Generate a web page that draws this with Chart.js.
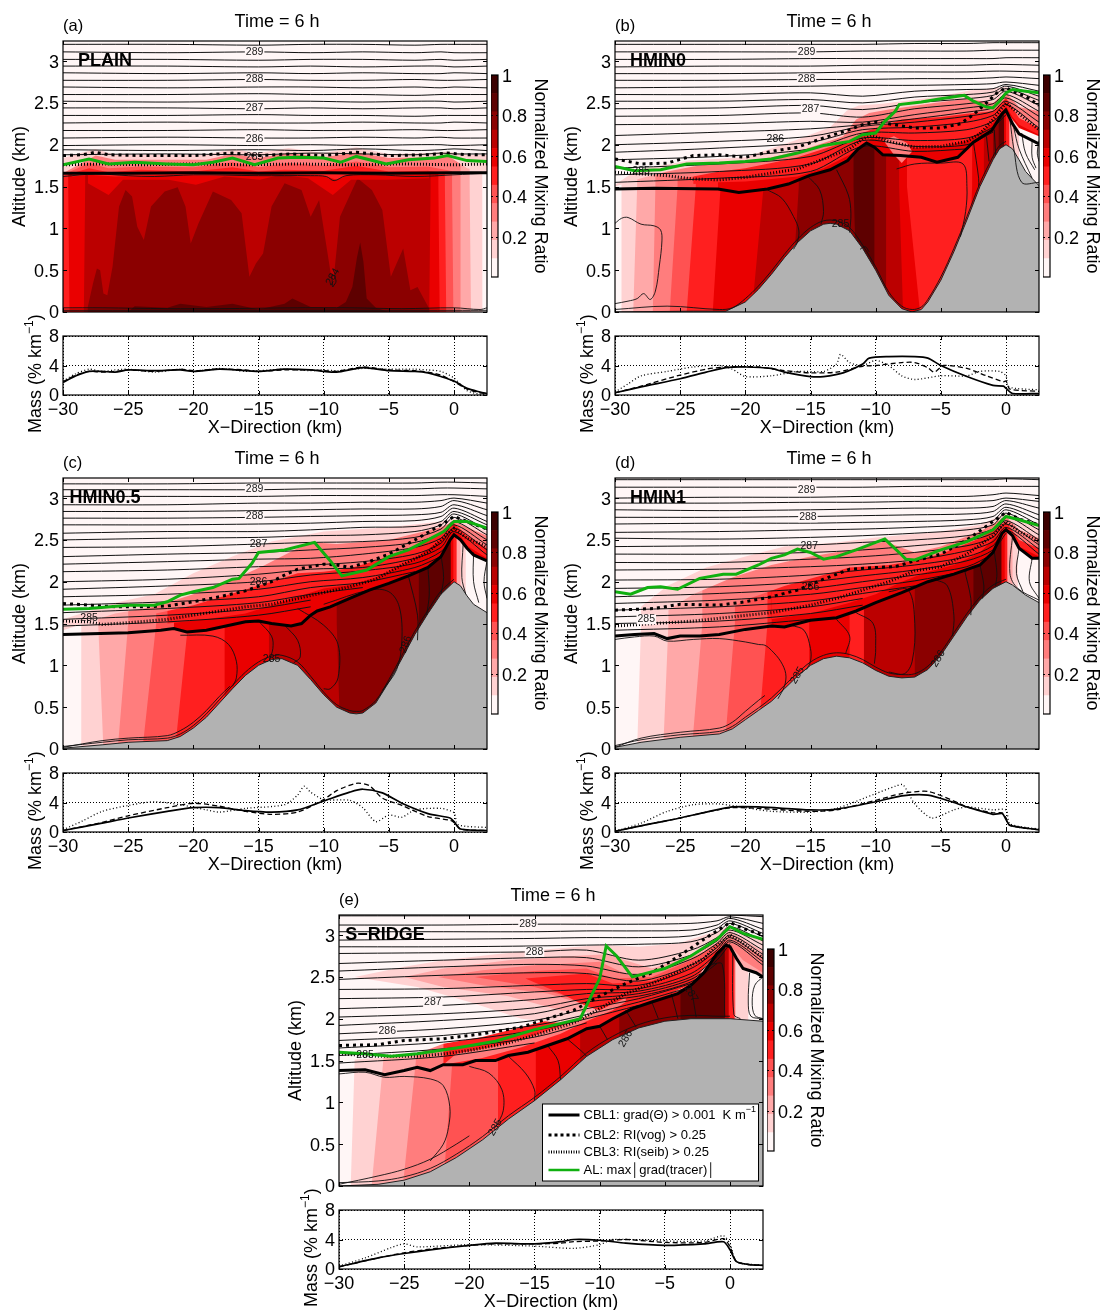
<!DOCTYPE html>
<html><head><meta charset="utf-8">
<style>html,body{margin:0;padding:0;background:#fff;width:1100px;height:1310px;overflow:hidden}canvas{position:absolute;display:block}</style>
<script src="https://cdn.jsdelivr.net/npm/chart.js@4/dist/chart.umd.min.js"></script>
</head><body>
<script>
// ---------- shared ticks & levels ----------
const altitudeTicks=[0,0.5,1,1.5,2,2.5,3];
const xTicks=[-30,-25,-20,-15,-10,-5,0];
const massTicks=[0,4,8];
const barTicks=[0.2,0.4,0.6,0.8,1];
const levelColors=['#fff6f6','#ffd2d2','#ffa8a8','#ff7d7d','#ff5252','#ff1f1f','#ea0000','#bb0000','#8b0000','#5e0000','#3c0000'];
const thetaX=[-30,-22,-15,-11,-7,-3,-1,0,2.53];

// ---------- panel (a) PLAIN ----------
const aStripes=[[5,-30,-30],[6,-29.6,-29.5],[7,-28.3,-28.4],[6,-1.8,-1.9],[5,-1.2,-1.1],[4,-.7,-.6],[3,-.15,-.05],[2,.5,.5],[1,1.2,1.3],[0,2.15,2.2]];
const aDark=[-28.1,.06,-27.7,.34,-27.4,.52,-27.15,.5,-26.9,.22,-26.6,.2,-26.2,.54,-25.7,1.26,-25.2,1.46,-24.7,1.38,-24.3,1.02,-23.8,.86,-23.25,1.26,-22.2,1.44,-21.2,1.49,-20.6,1.26,-20.2,.82,-19.6,1.06,-18.5,1.44,-17.1,1.34,-16.3,1.18,-15.7,.42,-15.2,.58,-14.65,.7,-14,1.26,-13,1.54,-11.7,1.46,-11,1.14,-10.35,1.34,-9.7,.7,-9.3,.3,-8.75,1.14,-7.4,1.6,-6.3,1.46,-5.5,1.22,-4.85,.42,-3.9,.76,-3.35,.26,-2.8,.3,-1.9,.04,-1.9,0,-28.1,0,-28.1,.06];
const aDarkest=[-25,0,-24.5,.07,-22,.05,-21,.1,-19,.06,-17,.1,-15,.03,-13,.1,-12.4,.16,-11,.06,-9,.05,-8.3,.12,-7.8,.3,-7.45,.65,-7.2,.83,-6.95,.6,-6.7,.16,-6,.05,-5,0,-25,0];
const aBand6=[-28.1,1.54,-26.5,1.4,-25.4,1.58,-21.9,1.58,-19.8,1.52,-17.6,1.62,-14.9,1.58,-13.3,1.64,-11.2,1.6,-9.3,1.4,-7.9,1.58,-5.2,1.58,-1.9,1.6];
const aBand5=[-29.3,1.62,-28,1.64,-26,1.62,-22,1.64,-18,1.63,-14,1.65,-10,1.63,-9,1.58,-8,1.65,-5,1.64,-1.2,1.65];
const aBand4=[-30,1.63,-28,1.72,-26.5,1.67,-24,1.7,-20,1.68,-17,1.73,-15,1.68,-13,1.7,-10,1.69,-7.5,1.75,-5,1.68,-2,1.69,-.5,1.66];
const aBand3=[-30,1.64,-28,1.78,-26.5,1.72,-24,1.74,-20,1.73,-17,1.79,-15,1.73,-12.8,1.78,-10,1.75,-7.5,1.8,-5,1.73,-2,1.74,0,1.68];
const aBand1=[-30,1.66,-27.5,1.87,-26,1.82,-22,1.82,-19,1.82,-17,1.89,-15,1.84,-12.7,1.9,-10,1.85,-7.5,1.91,-5,1.84,-2,1.85,-.5,1.87,1,1.72,2.53,1.67];
const aBand0=[-30,1.84,-27.5,1.95,-26,1.88,-22,1.88,-19,1.88,-17,1.95,-15,1.9,-12.7,1.96,-10,1.9,-7.5,1.97,-5,1.89,-2,1.9,-.5,1.92,1,1.88,2.53,1.88];
const aCbl1=[-30,1.66,-25,1.66,-20,1.665,-15,1.66,-10,1.665,-5,1.66,0,1.665,2.53,1.665];
const aCbl2=[-30,1.87,-28.5,1.88,-27.5,1.91,-26.5,1.88,-24,1.87,-20,1.87,-17,1.9,-15,1.87,-12.5,1.89,-10,1.87,-7.5,1.91,-5,1.87,-2,1.88,-.5,1.9,1,1.88,2.53,1.88];
const aCbl3=[-30,1.76,-27,1.77,-24,1.76,-20,1.77,-16,1.76,-12,1.77,-8,1.76,-4,1.77,0,1.76,2.53,1.77];
const aAl=[-30,1.76,-28,1.83,-26.5,1.77,-24.5,1.79,-22,1.77,-20,1.76,-18.5,1.79,-17,1.84,-15.3,1.76,-13.5,1.84,-12,1.85,-10,1.84,-8.7,1.79,-7.5,1.86,-5.2,1.77,-3.5,1.82,-1.5,1.84,-.5,1.87,1,1.81,2.53,1.8];
const aThin=[[-30,1.62,-27.5,1.65,-25,1.63,-23,1.62,-20,1.64,-15,1.63,-11,1.63,-9.8,1.62,-9.2,1.57,-8.3,1.63,-6,1.64,-3,1.62,0,1.64,2.53,1.66],[-30,.05,-27,.05,-22,.04,-18,.04,-12,.05,-8,.05,-4,.04,0,.05,2,.03,2.53,.05],[-30,.02,-20,.02,-10,.02,0,.02,2.53,.02],[-9.3,.3,-9.35,.45,-9.05,.37,-9.3,.3]];
const aTheta=[
[3.2,3.2,3.19,3.2,3.2,3.19,3.2,3.2,3.2],[3.11,3.1,3.11,3.1,3.11,3.1,3.11,3.1,3.1],[3.02,3.02,3.01,3.02,3.02,3.01,3.02,3.01,3.02],
[2.94,2.94,2.93,2.94,2.93,2.94,2.94,2.93,2.94],[2.86,2.85,2.86,2.85,2.86,2.85,2.85,2.86,2.85],[2.77,2.77,2.78,2.77,2.77,2.78,2.77,2.77,2.78],
[2.69,2.68,2.69,2.69,2.68,2.69,2.68,2.69,2.68],[2.6,2.6,2.61,2.6,2.6,2.59,2.6,2.6,2.6],[2.52,2.51,2.52,2.52,2.51,2.52,2.52,2.51,2.52],
[2.44,2.44,2.43,2.44,2.43,2.44,2.44,2.43,2.44],[2.35,2.35,2.36,2.35,2.35,2.34,2.35,2.35,2.35],[2.26,2.27,2.26,2.26,2.27,2.26,2.26,2.27,2.26],
[2.17,2.17,2.18,2.17,2.17,2.18,2.17,2.17,2.18],[2.08,2.09,2.08,2.08,2.09,2.08,2.09,2.08,2.08],[1.99,2,1.99,2,1.99,2,2,1.99,2],
[1.94,1.93,1.94,1.93,1.95,1.93,1.94,1.95,1.93],[1.88,1.89,1.88,1.9,1.89,1.88,1.9,1.89,1.89]];
const aLabels=[[-15.3,3.11,'289',0,1],[-15.3,2.78,'288',0,1],[-15.3,2.44,'287',0,1],[-15.3,2.07,'286',0,1],[-15.3,1.85,'285',0,0],[-9.3,.42,'284',-60,0]];
const aMassSolid=[-30,1.7,-29,2.6,-28,3.2,-27,3.2,-26,3.1,-25,3.4,-23,3.3,-21,3.4,-20,3.2,-18,3.5,-16,3.3,-15,3.2,-13,3.5,-11,3.4,-10,3.2,-9,3.1,-7,3.7,-5,3.3,-3,3.2,-2,3,-1,2.5,0,1.9,1,.9,2,.4,2.53,.2];
const aMassDash=[-30,1.8,-29,2.7,-28,3.2,-27,3.1,-26,3.2,-25,3.4,-23,3.2,-21,3.5,-20,3.3,-18,3.5,-16,3.4,-15,3.2,-13,3.4,-11,3.4,-10,3.3,-9,3.2,-7,3.8,-5,3.4,-3,3.3,-2,3.1,-1,2.7,0,1.8,1,.8,2,.3,2.53,.2];
const aMassDot=[-30,1.9,-29,2.9,-28,3.5,-27,3.2,-26,3.4,-25,3.5,-23,3.1,-21,3.5,-20,3.2,-18,3.6,-16,3.2,-15,3.3,-13,3.5,-11,3.3,-10,3.4,-9,3.3,-7,3.6,-5,3.5,-3,3.5,-2,3.4,-1,3.2,0,2.3,1,.6,2,.1,2.53,.1];

// ---------- panel (b) HMIN0 ----------
const bStripes=[[0,-30,-30],[1,-29.5,-29.5],[2,-28.3,-28.6],[3,-26.9,-27.1],[4,-25.2,-25.8],[5,-23.8,-24.5],[6,-21.9,-22.5],[7,-18.6,-19.5],[8,-15.9,-16.5],[9,-11.7,-11.4],[8,-10.1,-10.1],[7,-9.2,-9.2],[6,-8.2,-7.9],[5,-7.6,-6.6],[6,-2.6,-3],[7,-1.7,-2],[8,-1,-1.2],[9,-.55,-.6],[6,-.15,-.15],[5,0,0],[2,.25,.2],[1,.6,.5],[0,1,1]];
const bBand6=[-22.1,1.47,-20.5,1.43,-18.3,1.47,-16.7,1.53,-15.1,1.63,-13.5,1.7,-12.15,1.81,-11.35,1.95,-10.7,2.02,-10.1,1.97,-9.45,1.88,-8.1,1.87,-6.5,1.85,-5.3,1.79,-3.7,1.85,-2.5,2.03,-1.1,2.17,-.3,2.37,0,2.41,.5,2.3,1,2.2,2.53,2.1];
const bBand5=[-24,1.53,-22,1.55,-20,1.56,-16,1.62,-14,1.72,-12,1.88,-11,2,-10.3,2.08,-9,2.03,-7,1.96,-5,1.97,-3,2.05,-1,2.26,0,2.46,.5,2.33,1,2.24,2.53,2.12];
const bBand4=[-26,1.58,-24,1.62,-22,1.68,-20,1.72,-18,1.78,-16,1.85,-14,1.95,-12,2.05,-11,2.14,-10,2.2,-8,2.3,-5,2.33,-3,2.37,-1,2.4,0,2.56,1,2.32,2.53,2.2];
const bBand2=[-30,1.5,-28,1.6,-26,1.68,-24,1.74,-22,1.78,-20,1.8,-18,1.85,-16,1.92,-14,2.02,-12.5,2.1,-11.5,2.3,-10.5,2.38,-9,2.42,-5.5,2.5,-3,2.55,-1,2.5,0,2.62,1,2.45,2.53,2.4];
const bBand1=[-30,1.52,-28.3,1.7,-24.3,1.81,-20,1.85,-16.2,2.05,-13.5,2.21,-12.2,2.41,-11.3,2.47,-9.5,2.49,-5.4,2.57,-2.7,2.65,0,2.69,1,2.62,2.53,2.6];
const bSwirl=[-9.4,2.05,-8.6,2.1,-7.6,2.02,-7.2,1.92,-8,1.78,-8.6,1.88,-9.4,2.05];
const bTerrain=[-30,0,-24,.01,-21.5,.01,-20,.12,-19,.27,-18,.45,-17,.65,-16,.83,-15,.97,-14,1.05,-13.5,1.06,-13,1.05,-12,.97,-11,.76,-10,.5,-9,.2,-8,.04,-7.2,0,-6.5,.03,-6,.12,-5,.38,-4,.72,-3,1.1,-2,1.5,-1,1.82,-.5,1.95,0,2,.5,1.95,1,1.82,1.5,1.68,2.53,1.51];
const bCbl1=[-30,1.47,-27,1.48,-22.1,1.47,-20.5,1.43,-18.3,1.47,-16.7,1.53,-15.1,1.63,-13.5,1.7,-12.15,1.81,-11.35,1.95,-10.7,2.02,-10.1,1.97,-9.45,1.88,-8.1,1.87,-6.5,1.85,-5.3,1.79,-3.7,1.85,-2.5,2.03,-1.1,2.17,-.3,2.37,0,2.41,.5,2.25,1,2.13,2.53,2.01];
const bCbl2=[-30,1.83,-28,1.77,-26,1.78,-24,1.87,-22,1.88,-20,1.85,-18,1.92,-16,1.97,-14,2.08,-12,2.18,-11,2.24,-10,2.27,-9,2.25,-7,2.2,-5,2.2,-3.5,2.25,-2.5,2.36,-1.5,2.5,-.7,2.62,0,2.68,.5,2.64,1.5,2.58,2.53,2.47];
const bCbl3=[-30,1.67,-28,1.65,-26,1.63,-24,1.59,-22,1.58,-20,1.61,-18,1.66,-16,1.71,-14,1.83,-12,1.95,-11,2.07,-10.3,2.11,-9,2.04,-7,1.97,-5,1.98,-3,2.04,-2,2.13,-1,2.3,0,2.5,1,2.37,2.53,2.18];
const bAl=[-30,1.74,-28.5,1.69,-26.5,1.7,-24.5,1.77,-22,1.78,-20,1.8,-18,1.83,-16,1.9,-14,1.99,-12,2.04,-11,2.12,-10,2.14,-9.3,2.28,-8.5,2.4,-8.2,2.48,-6.5,2.51,-5,2.55,-3.2,2.59,-2.5,2.52,-1.5,2.45,-1,2.44,-.5,2.52,0,2.62,.5,2.66,1.5,2.64,2.53,2.62];
const bThin=[[-30,1.06,-29.5,1.12,-29,1.13,-28,1.05,-27,1.03,-26.5,.98,-26.4,.85,-26.6,.55,-26.9,.25,-27.3,.15,-27.8,.22,-28.3,.16,-29,.13,-30,.1],
[-30,.03,-26,.07,-22,.03,-21,.05,-20,.16,-19,.31,-18,.49,-17,.69,-16,.87,-15,1.01,-14,1.09,-13,1.09,-12,1.01,-11,.8,-10,.54,-9,.24,-8,.07,-7.2,.03,-6.5,.06,-6,.15,-5,.42,-4,.76,-3,1.14,-2,1.54,-1,1.86,-.5,1.99,0,2.04],
[-18.3,1.46,-17.2,1.36,-16.3,1.14,-15.9,.98,-16,.84,-16.3,.75],[-15.2,1.62,-14.3,1.46,-14,1.2,-14.2,1.05],[-13,1.7,-12.1,1.4,-11.9,1.18,-12,.95],[-11.2,.75,-10.8,.78,-10.5,.72],
[-8.4,1.71,-7,1.77,-5,1.78,-3.3,1.77,-3,1.5,-3.1,1.2,-3.5,.9],[-2.5,2.03,-2.1,1.6,-2.1,1.5],[-1.5,2.1,-1.3,1.8],[-.9,2.18,-.8,1.88],
[.3,2.3,.6,1.95,1.2,1.55,2.53,1.55],[.6,2.2,1,1.95,2,1.6],[1.2,2.14,1.5,1.9,2.2,1.7],[2,2.05,2,1.85,2.3,1.72],[2.53,2.05,2.4,1.9,2.53,1.8]];
const bTheta=[
[3.2,3.2,3.2,3.2,3.21,3.21,3.22,3.22,3.22],[3.11,3.11,3.11,3.12,3.12,3.12,3.13,3.13,3.13],[3.02,3.02,3.03,3.03,3.03,3.03,3.03,3.04,3.04],
[2.93,2.94,2.94,2.95,2.95,2.95,2.96,2.96,2.95],[2.85,2.85,2.86,2.87,2.87,2.87,2.88,2.88,2.87],[2.77,2.77,2.78,2.78,2.79,2.79,2.8,2.81,2.79],
[2.68,2.69,2.7,2.71,2.71,2.72,2.73,2.75,2.71],[2.6,2.6,2.62,2.58,2.64,2.66,2.67,2.72,2.64],[2.52,2.52,2.54,2.5,2.57,2.6,2.63,2.7,2.58],
[2.43,2.44,2.47,2.42,2.5,2.55,2.59,2.67,2.53],[2.34,2.35,2.38,2.33,2.43,2.49,2.54,2.64,2.47],[2.24,2.25,2.28,2.27,2.36,2.44,2.49,2.6,2.4],
[2.11,2.15,2.19,2.24,2.31,2.39,2.44,2.56,2.34],[2,2.04,2.1,2.22,2.27,2.34,2.4,2.52,2.27],[1.91,1.96,2.03,2.18,2.21,2.27,2.35,2.48,2.2],
[1.82,1.86,1.95,2.14,2.14,2.18,2.28,2.44],[1.72,1.77,1.86,2.08,2.05,2.08,2.21,2.36],[1.64,1.68,1.77,2.05,1.98,2,2.15],[1.55,1.6,1.68,1.98,1.92,1.95]];
const bLabels=[[-15.3,3.11,'289',0,1],[-15.3,2.79,'288',0,1],[-15,2.42,'287',0,1],[-17.7,2.07,'286',0,0],[-28,1.69,'285',0,0],[-12.7,1.05,'285',0,0]];
const bMassSolid=[-30,.3,-28,1.1,-25,2.2,-23,3.1,-21.5,3.7,-20,3.8,-18,3.6,-17,3.1,-15,2.5,-14,2.5,-12.5,3,-11,4.2,-10.5,5,-9,5.2,-7,5.2,-6,5,-5,4,-3,2.5,-1,1.3,-.2,1.2,0,.9,.5,.2,2.53,.2];
const bMassDash=[-30,.3,-28,1.2,-25,2.7,-23,3.5,-21.5,3.8,-19,3.8,-17,3.3,-15,3,-13,3.1,-11,3.9,-10,4,-8,4.4,-7,4.4,-6,3.7,-5.5,3.1,-4.8,4,-3,3.6,-1.5,2.6,-.2,1.8,0,1.9,.3,.8,2.53,.5];
const bMassDot=[-30,.4,-29,1.5,-28,2.6,-26,3.2,-24,3.8,-22,4,-21,3.5,-20,2.5,-18,2.6,-16,3.2,-14,3.2,-13,4.2,-12.7,5.5,-12,4.4,-11,4,-10,4.7,-9,4,-8,2.6,-7,2.1,-5,2.6,-3,2.6,-2,3.2,-.5,3.2,0,2.6,.2,1.1,2.53,.7];

// ---------- panel (c) HMIN0.5 ----------
const cStripes=[[0,-30,-30],[1,-28.6,-28.6],[2,-27.3,-26.9],[3,-25,-25.8],[4,-22.85,-23.9],[5,-20.4,-21.4],[6,-17.6,-17.6],[7,-14.2,-14.2],[8,-9,-8.7],[9,-2.7,-3],[6,-.25,-.25],[5,-.05,-.05],[2,.2,.2],[1,.5,.5],[0,.9,.9]];
const cCbl1=[-30,1.37,-25,1.39,-22.5,1.42,-21.5,1.44,-20.5,1.4,-19,1.42,-17.5,1.47,-16,1.52,-15,1.53,-14,1.5,-12.5,1.47,-11.7,1.5,-11,1.6,-10.5,1.65,-9.5,1.7,-8,1.8,-6.5,1.9,-5,1.98,-3.5,2.07,-2,2.17,-1,2.3,-.3,2.5,0,2.56,.5,2.5,1,2.4,1.5,2.32,2.53,2.25];
const cBand6=[-21.5,1.44,-20.5,1.4,-19,1.42,-17.5,1.47,-16,1.52,-15,1.53,-14,1.5,-12.5,1.47,-11.7,1.5,-11,1.6,-10.5,1.65,-9.5,1.7,-8,1.8,-6.5,1.9,-5,1.98,-3.5,2.07,-2,2.17,-1,2.3,-.3,2.5,0,2.56,.5,2.5,1,2.4,1.5,2.32,2.53,2.25];
const cBand5=[-22,1.5,-19,1.55,-16,1.62,-14,1.72,-12,1.82,-10,1.92,-8,1.96,-6,2.05,-3,2.28,-1,2.5,0,2.66,.5,2.55,1,2.43,2.53,2.28];
const cBand3=[-24,1.58,-20,1.72,-17,1.86,-14,2,-12,2.1,-10,2.12,-8,2.16,-6,2.25,-3,2.42,-1,2.58,0,2.7,1,2.55,2.53,2.4];
const cBand2=[-30,1.42,-26,1.62,-23,1.7,-20,1.85,-17,2.02,-14.5,2.2,-12,2.4,-10.7,2.47,-9,2.45,-5,2.5,-1,2.65,0,2.72,1,2.65,2.53,2.55];
const cBand1=[-30,1.55,-26,1.75,-23,1.85,-20,2.1,-17,2.3,-14,2.48,-10,2.6,-5,2.65,-1,2.72,0,2.75,1,2.7,2.53,2.6];
const cTerrain=[-30,.01,-27,.05,-25,.08,-22,.1,-21,.15,-20,.25,-19,.38,-18,.55,-17,.72,-16,.88,-15,1,-14,1.07,-13.2,1.08,-12,1,-11,.83,-10,.65,-9,.5,-8,.43,-7.5,.42,-7,.43,-6,.55,-5,.8,-4,1.08,-3,1.37,-2,1.62,-1,1.85,0,2,.5,1.95,1,1.83,1.5,1.73,2.53,1.63];
const cCbl2=[-30,1.74,-28,1.72,-26,1.7,-24,1.7,-22,1.71,-20,1.76,-18,1.82,-16,1.89,-14,2,-13,2.08,-12,2.15,-10,2.21,-9,2.2,-8,2.17,-6.5,2.24,-5,2.33,-3,2.5,-1,2.68,0,2.78,1,2.72,2.53,2.63];
const cCbl3=[-30,1.53,-28,1.52,-27,1.49,-25,1.51,-22,1.55,-20,1.6,-18,1.65,-16,1.7,-14,1.73,-12,1.8,-10,1.87,-8,1.94,-6,2.03,-4,2.2,-2,2.35,-1,2.5,0,2.64,1,2.52,2.53,2.42];
const cAl=[-30,1.67,-28,1.68,-25,1.72,-23,1.72,-22,1.76,-21,1.84,-20,1.88,-18.5,1.93,-17,2.03,-16.5,2.04,-15.5,2.22,-15,2.35,-13,2.38,-10.7,2.47,-9.5,2.25,-8.6,2.07,-6.7,2.14,-5,2.3,-3.5,2.38,-2,2.5,-.8,2.6,0,2.72,1,2.72,2.53,2.64];
const cThin=[[-30,.03,-27,.08,-25,.11,-22,.13,-21,.18,-20,.28,-19,.42,-18,.59,-17,.76,-16,.92,-15,1.04,-14,1.11,-13.2,1.12,-12,1.04,-11,.87,-10,.68,-9,.53,-8,.46,-7.5,.45,-7,.46,-6,.58,-5,.83,-4,1.12,-3,1.41,-2,1.66,-1,1.89,0,2.03],
[-30,.02,-27,.1,-25,.13,-22,.16,-21,.22,-20,.32,-19,.46,-18,.63,-17.2,.75],
[-21,1.36,-18.5,1.35,-17.3,1.25,-16.7,1.05,-16.7,.85,-17,.75],[-15,1.53,-14,1.35,-13.9,1.2,-14.2,1.05],[-13,1.48,-12,1.3,-11.8,1.1,-12.3,1.03],[-12,1.68,-10,1.48,-8.9,1.25,-8.9,.85,-9.5,.72,-10,.72],
[-10,1.73,-6.5,1.9,-5,1.88,-4.2,1.7,-4,1.3,-4.4,.95,-5.5,.7],[-3.5,2.07,-2.8,1.6,-2.8,1.3],[-2,2.17,-1.9,1.85,-2.1,1.6],[-1,2.32,-.8,2.05,-1,1.85],
[.7,2.45,.6,2.05,.9,1.85],[1.5,2.35,1.5,2,1.9,1.75],[2.53,2.25,2.3,2,2.53,1.8]];
const cTheta=[
[3.17,3.17,3.18,3.18,3.18,3.18,3.19,3.19,3.18],[3.1,3.1,3.1,3.11,3.11,3.11,3.12,3.12,3.11],[3.02,3.02,3.02,3.03,3.03,3.03,3.04,3.04,3.02],
[2.92,2.92,2.94,2.94,2.95,2.95,2.97,3,2.94],[2.84,2.84,2.85,2.86,2.87,2.87,2.9,2.97,2.86],[2.76,2.76,2.77,2.78,2.79,2.8,2.83,2.92,2.79],
[2.68,2.68,2.69,2.7,2.72,2.73,2.78,2.88,2.72],[2.58,2.6,2.6,2.62,2.65,2.66,2.72,2.84,2.68],[2.5,2.52,2.53,2.55,2.56,2.6,2.68,2.81,2.62],
[2.41,2.42,2.45,2.47,2.48,2.53,2.63,2.77,2.56],[2.3,2.33,2.35,2.38,2.41,2.47,2.58,2.72,2.5],[2.21,2.24,2.27,2.28,2.33,2.41,2.52,2.68,2.44],
[2.12,2.14,2.18,2.2,2.24,2.33,2.46,2.64,2.38],[2,2.03,2.09,2.15,2.17,2.28,2.41,2.6,2.32],[1.91,1.95,2,2.08,2.13,2.22,2.36,2.55],
[1.82,1.85,1.91,2,2.05,2.17,2.3],[1.72,1.76,1.82,1.93,1.99,2.12],[1.63,1.68,1.75,1.85,1.93],[1.55,1.6,1.68,1.78],[1.47,1.52,1.6,1.7]];
const cLabels=[[-15.3,3.11,'289',0,1],[-15.3,2.78,'288',0,1],[-15,2.45,'287',0,0],[-15,1.99,'286',0,0],[-28,1.57,'285',0,0],[-14,1.08,'285',0,0],[-3.7,1.25,'286',-70,0]];
const cMassSolid=[-30,.2,-27,1.2,-25,1.9,-22,2.8,-20,3.3,-18,3.3,-16,2.9,-14,2.7,-12,3,-10,4.2,-8,5.4,-7,5.8,-5.5,5.3,-4,3.9,-2,2.5,-.3,1.9,0,1.4,.5,.4,2.53,.2];
const cMassDash=[-30,.2,-27,1.3,-25,2.2,-22,3.3,-20,3.9,-18,3.5,-16,2.8,-14,2.4,-12,2.7,-10,4.4,-9,5.6,-7.5,6.6,-6.5,6.3,-5.5,4.6,-4,3.6,-2,2.1,-.3,1.6,0,1.3,.5,.4,2.53,.2];
const cMassDot=[-30,.3,-28.5,1.5,-27,2.8,-25,3.6,-23,4.1,-21,3.7,-19,3,-18,2.7,-16,3.2,-13,3.7,-12,5,-11.5,6.2,-11,5.4,-10,4.4,-8,4.3,-7,3.3,-6,1.4,-5,2.3,-4,2,-3,3,-1,3.2,0,2.6,.3,1,2.53,.6];

// ---------- panel (d) HMIN1 ----------
const dStripes=[[0,-30,-30],[1,-28,-28.3],[2,-25.9,-26.3],[3,-23.3,-24.1],[4,-20.8,-21.6],[5,-18.3,-19.1],[6,-15.1,-15.1],[5,-12,-12],[7,-10.9,-10.9],[8,-7,-7],[9,-2.5,-2.5],[6,-.35,-.35],[5,-.1,-.1],[2,.1,.1],[1,.5,.5],[0,.9,.9]];
const dCbl1=[-30,1.35,-28.5,1.37,-27,1.38,-26,1.32,-25,1.35,-23.5,1.35,-22,1.37,-20,1.43,-18,1.47,-17,1.46,-15,1.54,-13,1.57,-11.5,1.65,-10,1.75,-8,1.87,-6,2,-4,2.09,-2,2.2,-1,2.35,-.3,2.58,0,2.62,.5,2.55,1,2.4,2,2.28,2.53,2.28];
const dBand6=[-18,1.47,-17,1.46,-15,1.54,-13,1.57,-11.5,1.65,-10,1.75,-8,1.87,-6,2,-4,2.09,-2,2.2,-1,2.35,-.3,2.58,0,2.62,.5,2.55,1,2.4,2,2.28,2.53,2.28];
const dBand5=[-18,1.55,-15,1.62,-12,1.75,-10,1.85,-8,2,-6,2.12,-4,2.2,-2,2.35,0,2.66,.5,2.55,1,2.42,2.53,2.3];
const dBand3=[-22,1.6,-20,1.78,-17,1.95,-14,2.08,-12,2.17,-9,2.2,-7,2.25,-5,2.33,-2,2.52,0,2.72,1,2.5,2.53,2.4];
const dBand2=[-26,1.65,-24,1.85,-21,2.05,-18,2.2,-15,2.3,-12,2.38,-9.3,2.48,-7,2.35,-5,2.42,-2,2.6,0,2.78,1,2.62,2.53,2.52];
const dBand1=[-30,1.5,-28,1.7,-26,1.95,-23,2.17,-20,2.3,-17,2.42,-13,2.47,-10,2.53,-5,2.6,-2,2.68,0,2.82,1,2.75,2.53,2.7];
const dTerrain=[-30,.02,-28,.08,-25,.14,-22,.18,-21,.24,-20,.35,-19,.46,-18,.57,-17,.72,-16,.87,-15,1,-14,1.08,-13,1.11,-12,1.09,-11,1.03,-10,.94,-9,.87,-8,.85,-7,.86,-6,.95,-5,1.12,-4,1.35,-3,1.58,-2,1.78,-1,1.92,0,2,.5,1.96,1,1.9,1.5,1.84,2.53,1.75];
const dCbl2=[-30,1.66,-27,1.68,-25,1.73,-22,1.72,-20,1.76,-18,1.82,-16,1.9,-14,2.03,-12,2.15,-10,2.17,-8.5,2.18,-7,2.25,-5,2.33,-3,2.5,-1,2.72,0,2.83,1,2.75,2.53,2.68];
const dCbl3=[-30,1.47,-27,1.5,-24,1.53,-21,1.58,-18,1.63,-15,1.72,-13,1.8,-11,1.9,-9,2,-7,2.13,-5,2.18,-3,2.33,-1,2.55,0,2.72,1,2.6,2.53,2.48];
const dAl=[-30,1.88,-28.8,1.85,-27.5,1.93,-26.5,1.94,-25.2,1.91,-23.5,2.04,-21.7,2.09,-20.7,2.09,-19,2.2,-18,2.28,-17,2.32,-16,2.39,-15,2.35,-14,2.27,-13,2.3,-11.5,2.38,-10,2.47,-9.3,2.51,-8,2.32,-7.7,2.27,-7,2.26,-5,2.38,-3,2.48,-1,2.62,0,2.78,1,2.74,2.53,2.67];
const dThin=[[-30,.04,-28,.11,-25,.17,-22,.21,-21,.27,-20,.38,-19,.49,-18,.61,-17,.76,-16,.91,-15,1.04,-14,1.12,-13,1.15,-12,1.13,-11,1.07,-10,.98,-9,.91,-8,.89,-7,.9,-6,.99,-5,1.16,-4,1.39,-3,1.62,-2,1.82,-1,1.96,0,2.03],
[-30,.02,-28,.13,-25,.2,-22,.25,-21,.32,-20,.45,-19,.58,-18.5,.64],
[-30,1.31,-28.5,1.34,-27,1.35,-26,1.29,-24,1.31,-22,1.32,-20,1.28,-19,1.25,-18.5,1.24,-18,1.18,-17.3,1.05,-16.9,.9,-17,.75,-17.5,.6],
[-16.5,1.48,-15.5,1.42,-15,1.2,-15,1.05,-15.3,.95],[-13,1.55,-12,1.35,-12.3,1.14],[-11.5,1.63,-10.2,1.5,-10,1.2,-10.1,1.02],[-9,1.88,-7.5,1.9,-7,1.5,-7.2,1.05,-7.8,.9,-9,.92],
[-5.5,2.03,-4.5,1.95,-4,1.6,-4.1,1.35],[-3.2,2.15,-2.7,1.8,-2.7,1.6],[-2,2.2,-1.7,1.95,-1.8,1.8],[-.9,2.36,-.7,2.1,-.8,1.95],
[.5,2.55,.3,2.1,.9,1.92,2.53,1.78],[1,2.4,.8,2.1,1.3,1.88],[2,2.28,1.8,2,2.53,1.8]];
const dTheta=[
[3.22,3.22,3.22,3.22,3.22,3.22,3.22,3.23,3.22],[3.13,3.13,3.13,3.13,3.14,3.14,3.14,3.14,3.14],[3,3.01,3.01,3.02,3.02,3.02,3.04,3.06,3.03],
[2.94,2.94,2.95,2.95,2.96,2.96,2.97,3,2.96],[2.86,2.85,2.86,2.87,2.88,2.88,2.9,2.97,2.88],[2.77,2.77,2.78,2.79,2.8,2.81,2.84,2.93,2.8],
[2.69,2.7,2.7,2.71,2.72,2.74,2.78,2.89,2.74],[2.59,2.6,2.62,2.63,2.65,2.68,2.73,2.86,2.68],[2.52,2.51,2.53,2.55,2.58,2.62,2.68,2.82,2.62],
[2.42,2.43,2.44,2.47,2.5,2.55,2.63,2.78,2.56],[2.33,2.33,2.35,2.38,2.43,2.49,2.58,2.73,2.5],[2.23,2.23,2.27,2.3,2.35,2.43,2.53,2.69,2.44],
[2.14,2.15,2.18,2.21,2.26,2.37,2.48,2.65,2.39],[2.02,2.03,2.08,2.14,2.2,2.3,2.43,2.62,2.33],[1.92,1.94,2,2.07,2.14,2.25,2.38,2.58],
[1.82,1.86,1.92,2,2.08,2.18,2.33],[1.74,1.78,1.85,1.93,2.01,2.13],[1.66,1.7,1.77,1.86,1.95],[1.58,1.62,1.7,1.8],[1.5,1.53,1.62,1.72],[1.42,1.46,1.55]];
const dLabels=[[-15.3,3.09,'289',0,1],[-15.2,2.77,'288',0,1],[-15.1,2.43,'287',0,0],[-15,1.93,'286',0,0],[-27.6,1.55,'285',0,1],[-16,.88,'285',-60,0],[-5.2,1.08,'286',-60,0]];
const dMassSolid=[-30,.1,-27,1.2,-25,1.9,-23,2.7,-21,3.4,-19,3.4,-15,3,-13,3.1,-10,4.1,-8,4.9,-6,5,-4,4,-3,3.4,-1,2.4,-.3,2.5,0,1.7,.3,.9,2.53,.3];
const dMassDash=[-30,.1,-27,1.2,-25,1.9,-23,2.7,-21,3.3,-19,3.2,-15,2.8,-13,3,-10,4.3,-8,5.2,-6,5.5,-4,4.2,-3,3.4,-1,2.6,-.3,2.6,0,1.9,.3,.9,2.53,.3];
const dMassDot=[-30,.1,-28,1.2,-26,2.8,-24,3.7,-22,3.8,-20,3.3,-18,2.8,-15,2.7,-13,3.2,-10,5.2,-8.5,6.2,-7.9,6.4,-7,3.8,-5.7,1.9,-4,3,-3,3.4,-1,3,0,3,.3,1.1,2.53,.4];

// ---------- panel (e) S-RIDGE ----------
const eStripes=[[0,-30,-30],[1,-28.8,-29.1],[2,-26.6,-27.5],[3,-24.1,-25.1],[4,-21.3,-22],[5,-17.8,-17.8],[6,-14.9,-14.9],[7,-11.5,-11.5],[8,-8.5,-8.5],[9,-3.8,-3.8],[7,-.4,-.4],[5,-.1,-.1],[2,.35,.35],[1,.45,.45],[0,1.4,1.4]];
const eCbl1=[-30,1.38,-28,1.39,-26.5,1.33,-25,1.38,-24,1.42,-23,1.38,-22,1.45,-20.5,1.45,-19.5,1.5,-18,1.5,-17,1.56,-15.5,1.6,-14,1.68,-12.5,1.76,-11,1.88,-10,1.91,-9,2,-7.5,2.12,-6,2.2,-4,2.3,-3,2.4,-2,2.55,-1,2.78,-.3,2.88,0,2.86,.5,2.72,1,2.6,2,2.55,2.53,2.5];
const eBand5=[-22,1.45,-20.5,1.45,-19.5,1.5,-18,1.5,-17,1.56,-15.5,1.6,-14,1.68,-12.5,1.76,-11,1.88,-10,1.91,-9,2,-7.5,2.12,-6,2.2,-4,2.3,-3,2.4,-2,2.55,-1,2.78,-.3,2.88,0,2.86,.5,2.72,1,2.6,2,2.55,2.53,2.5];
const eBand0=[-30,1.5,-27,1.53,-24,1.58,-22,1.7,-19,1.78,-16,1.9,-13,2.02,-10,2.1,-8,2.2,-6,2.25,-4,2.33,-3,2.42,-2,2.58,-1,2.8,0,2.9,.5,2.75,1,2.62,2.53,2.53];
const eLens1=[-28.8,2.5,-25,2.62,-22,2.7,-18,2.77,-14,2.83,-10,2.88,-7,2.86,-4,2.9,-1,3.05,0,3.12,1,3.05,2.53,2.95,2.53,2.52,1,2.62,0,2.88,-1,2.8,-3,2.42,-6,2.22,-10,1.95,-13,1.95,-16,2,-20,2.2,-24,2.38,-28.8,2.5];
const eLens2=[-25,2.5,-22,2.6,-17,2.7,-12,2.75,-9.5,2.77,-6,2.6,-3,2.75,-1,2.95,0,3.05,1,2.95,2.53,2.8,2.53,2.52,1,2.62,0,2.88,-1,2.8,-3,2.42,-6,2.22,-9,2.05,-13,2.1,-17,2.27,-22,2.38,-25,2.5];
const eLens3=[-22.4,2.5,-19,2.58,-15,2.64,-10,2.68,-7.5,2.5,-5,2.58,-2,2.8,0,3,1,2.88,2.53,2.75,2.53,2.55,1,2.7,0,2.88,-1,2.8,-3,2.42,-6,2.22,-9,2.07,-14,2.3,-19,2.4,-22.4,2.5];
const eLens4=[-19.6,2.5,-15,2.57,-11,2.6,-9,2.48,-6,2.5,-3,2.7,-1,2.9,0,2.95,-1,2.8,-3,2.42,-6,2.22,-8,2.1,-11,2.2,-15,2.38,-19.6,2.5];
const eLens5=[-15.7,2.48,-11,2.54,-9,2.42,-6,2.45,-3,2.62,-1,2.82,0,2.92,-1,2.79,-3,2.41,-6,2.21,-9,2.05,-11,2.15,-13,2.3,-15.7,2.48];
const eHug2=[-22,1.45,-21,1.58,-18,1.67,-15,1.8,-12,1.97,-10,2.1,-8,2.25,-8,2.14,-9,2,-10,1.91,-11,1.88,-12.5,1.76,-14,1.68,-15.5,1.6,-17,1.56,-18,1.5,-19.5,1.5,-20.5,1.45,-22,1.45];
const eHug5=[-22,1.45,-19,1.53,-16,1.66,-13,1.82,-11,1.97,-9,2.1,-8,2.2,-7.5,2.12,-9,2,-10,1.91,-11,1.88,-12.5,1.76,-14,1.68,-15.5,1.6,-17,1.56,-18,1.5,-19.5,1.5,-20.5,1.45,-22,1.45];
const eTerrain=[-30,0,-27,.02,-25,.07,-23,.17,-21,.34,-19,.55,-17,.8,-15,1.02,-13,1.27,-11,1.55,-9,1.75,-7,1.89,-5,1.97,-3,2,0,2,2.53,1.97];
const eCbl2=[-30,1.68,-27,1.69,-25,1.74,-22,1.76,-19,1.82,-16,1.9,-14,2,-12,2.1,-10,2.27,-8,2.42,-6,2.55,-4,2.74,-2,2.95,-1,3.05,0,3.15,1,3.08,2.53,3];
const eCbl3=[-30,1.58,-27,1.55,-24,1.55,-22,1.58,-20,1.62,-17,1.71,-14,1.85,-12,1.95,-10,2.12,-8,2.3,-6,2.42,-4,2.56,-2,2.72,-1,2.88,0,3,1,2.9,2.53,2.73];
const eAl=[-30,1.6,-28,1.58,-26,1.55,-24,1.58,-21,1.65,-18,1.73,-15,1.87,-12,1.98,-11.5,2,-10,2.48,-9.5,2.87,-8.7,2.75,-7.5,2.5,-5,2.6,-3,2.75,-1,2.95,0,3.1,1,3.02,2.53,2.95];
const eThin=[[-30,.04,-27,.06,-25,.11,-23,.21,-21,.38,-19,.59,-17,.84,-15,1.06,-13,1.31,-11,1.59,-9,1.79,-7,1.93,-5,2.01,-3,2.04,-1,2.03,0,2.03],
[-30,.02,-27,.12,-25,.2,-23,.32,-21,.5,-20,.6],[-30,1.34,-28,1.36,-26.5,1.3,-25,1.31,-23,1.28,-22,1.2,-21.5,.95,-21.6,.7,-22,.5,-23,.3],
[-20,1.43,-18.5,1.35,-17.5,1.15,-17.4,.9,-18,.7],[-17,1.55,-15.7,1.35,-15,1.15,-15,1.02],[-14,1.68,-13.2,1.5,-13,1.27],[-12.5,1.76,-11.3,1.6,-11,1.55],[-10,1.91,-9.4,1.75],[-8,2.1,-7.2,1.9],[-6,2.2,-5.5,2],[-4.5,2.3,-4,2],[-3,2.4,-2.6,2.02],[-1.5,2.65,-.6,2.65,-.4,2.02],
[.2,2.8,.3,2.05,.8,2],[1.5,2.55,1.4,2.2,1.6,2.03,2.53,2],[2.53,2.5,1.9,2.4,1.7,2.2,1.9,2.04,2.53,2]];
const eTheta=[
[3.23,3.23,3.23,3.23,3.23,3.23,3.24,3.24,3.22],[3.12,3.12,3.13,3.13,3.13,3.14,3.17,3.22,3.14],[3.04,3.04,3.04,3.05,3.05,3.06,3.12,3.2,3.07],
[2.94,2.95,2.96,2.97,2.97,2.99,3.08,3.17,3.02],[2.86,2.86,2.87,2.88,2.89,2.92,3.03,3.14,2.98],[2.78,2.79,2.8,2.82,2.7,2.82,2.97,3.1,2.93],
[2.66,2.7,2.73,2.73,2.62,2.76,2.93,3.06,2.88],[2.57,2.62,2.65,2.63,2.53,2.71,2.9,3.03,2.82],[2.47,2.52,2.55,2.54,2.45,2.64,2.85,3,2.77],
[2.35,2.36,2.4,2.42,2.4,2.6,2.82,2.97,2.72],[2.24,2.26,2.32,2.35,2.36,2.54,2.78,2.94,2.68],[2.12,2.16,2.23,2.3,2.33,2.5,2.74,2.92,2.64],
[2.02,2.06,2.13,2.24,2.3,2.47,2.7,2.9],[1.92,1.98,2.06,2.2,2.27,2.44,2.66],[1.82,1.88,1.98,2.12,2.24,2.42],[1.74,1.8,1.92,2.05,2.2,2.38],
[1.65,1.72,1.86,2,2.16],[1.56,1.64,1.78,1.95],[1.47,1.55,1.71]];
const eLabels=[[-15.5,3.13,'289',0,1],[-15,2.8,'288',0,1],[-22.8,2.2,'287',0,1],[-26.3,1.85,'286',0,1],[-28,1.57,'285',0,0],[-18,.7,'285',-60,0],[-8,1.76,'286',-60,0],[-3,2.3,'287',60,0]];
const eMassSolid=[-30,.3,-27,1.5,-25,2.1,-23,2.6,-20,3.2,-18,3.5,-15,3.4,-13,3.7,-12,4,-10,3.9,-8,3.5,-5,3.2,-2,3.4,-.5,3.7,0,2.6,.5,1,1.5,.6,2.53,.5];
const eMassDash=[-30,.3,-27,1.5,-25,2.2,-23,2.7,-20,3.2,-18,3.4,-15,3.4,-13,3.5,-12,3.7,-10,3.8,-8,4,-5,3.6,-2,3.6,-.5,4.1,0,3,.5,1,1.5,.6,2.53,.5];
const eMassDot=[-30,.4,-28,1.5,-26,2.9,-25,3.4,-24,3,-20,3.3,-15,3.1,-12,2.8,-10,3.3,-9,4,-5,3.8,-2,3.8,-.5,4.5,0,3.4,.5,1,2.53,.5];

// ---------- panel table ----------
const panels=[
{tag:'(a)',name:'PLAIN',nameX:42,L:63,T:41,stripes:aStripes,shapes1:[[8,aDark],[9,aDarkest]],bands:[[6,aBand6],[5,aBand5],[4,aBand4],[3,aBand3],[1,aBand1],[0,aBand0]],shapes2:[],terrain:null,cbl1:aCbl1,cbl2:aCbl2,cbl3:aCbl3,al:aAl,thin:aThin,theta:aTheta,labels:aLabels,m:[aMassSolid,aMassDash,aMassDot]},
{tag:'(b)',name:'HMIN0',nameX:43,L:615,T:41,stripes:bStripes,shapes1:[],bands:[[6,bBand6],[5,bBand5],[3,bBand4],[1,bBand2],[0,bBand1]],shapes2:[[3,bSwirl]],terrain:bTerrain,cbl1:bCbl1,cbl2:bCbl2,cbl3:bCbl3,al:bAl,thin:bThin,theta:bTheta,labels:bLabels,m:[bMassSolid,bMassDash,bMassDot]},
{tag:'(c)',name:'HMIN0.5',nameX:42,L:63,T:478,stripes:cStripes,shapes1:[],bands:[[6,cBand6],[5,cBand5],[3,cBand3],[1,cBand2],[0,cBand1]],shapes2:[],terrain:cTerrain,cbl1:cCbl1,cbl2:cCbl2,cbl3:cCbl3,al:cAl,thin:cThin,theta:cTheta,labels:cLabels,m:[cMassSolid,cMassDash,cMassDot]},
{tag:'(d)',name:'HMIN1',nameX:43,L:615,T:478,stripes:dStripes,shapes1:[],bands:[[6,dBand6],[5,dBand5],[3,dBand3],[1,dBand2],[0,dBand1]],shapes2:[],terrain:dTerrain,cbl1:dCbl1,cbl2:dCbl2,cbl3:dCbl3,al:dAl,thin:dThin,theta:dTheta,labels:dLabels,m:[dMassSolid,dMassDash,dMassDot]},
{tag:'(e)',name:'S\u2212RIDGE',nameX:46,L:339,T:915,stripes:eStripes,shapes1:[],bands:[[5,eBand5],[0,eBand0]],shapes2:[[1,eLens1],[2,eLens2],[3,eLens3],[4,eLens4],[5,eLens5],[3,eHug2],[5,eHug5]],terrain:eTerrain,cbl1:eCbl1,cbl2:eCbl2,cbl3:eCbl3,al:eAl,thin:eThin,theta:eTheta,labels:eLabels,legend:true,m:[eMassSolid,eMassDash,eMassDot]}
];

// ---------- helpers ----------
const FONT='"Liberation Sans",Arial,sans-serif';
Chart.defaults.font.family=FONT;Chart.defaults.color='#000';Chart.defaults.animation=false;
const XMIN=-30,XMAX=2.53,YMAX=3.24,PW=424,PH=271,MH=59,EL=55,FS=18;
const pts=f=>{const o=[];for(let i=0;i<f.length;i+=2)o.push({x:f[i],y:f[i+1]});return o;};
const fmt=v=>String(v).replace('-','\u2212');
function mkCanvas(l,t,w,h){const c=document.createElement('canvas');c.width=w;c.height=h;c.style.left=l+'px';c.style.top=t+'px';c.style.width=w+'px';c.style.height=h+'px';document.body.appendChild(c);return c;}
const frame={id:'frame',afterDraw(ch,a,o){const {ctx,chartArea:A,scales}=ch;ctx.save();ctx.strokeStyle='#000';ctx.lineWidth=1;
 ctx.beginPath();
 if(scales.x&&scales.x.type==='linear'){scales.x.ticks.forEach(t=>{const p=Math.round(scales.x.getPixelForValue(t.value))+.5;ctx.moveTo(p,A.bottom);ctx.lineTo(p,A.bottom-4);ctx.moveTo(p,A.top);ctx.lineTo(p,A.top+4);});}
 scales.y.ticks.forEach(t=>{const p=Math.round(scales.y.getPixelForValue(t.value))+.5;ctx.moveTo(A.left,p);ctx.lineTo(A.left+(o.barTicks?2:4),p);ctx.moveTo(A.right,p);ctx.lineTo(A.right-(o.barTicks?2:4),p);});
 ctx.stroke();ctx.lineWidth=o.w||1.2;ctx.strokeRect(A.left,A.top,A.right-A.left,A.bottom-A.top);ctx.restore();}};
const overlay={id:'overlay',afterDatasetsDraw(ch,a,o){const {ctx,chartArea:A,scales:{x,y}}=ch;ctx.save();
 ctx.beginPath();ctx.rect(A.left,A.top,A.right-A.left,A.bottom-A.top);ctx.clip();
 o.labels.forEach(([vx,vy,s,rot,halo])=>{const px=x.getPixelForValue(vx),py=y.getPixelForValue(vy);ctx.save();ctx.translate(px,py);ctx.rotate((rot||0)*Math.PI/180);ctx.font='10.5px '+FONT;const w=ctx.measureText(s).width;if(halo){ctx.fillStyle=levelColors[0];ctx.fillRect(-w/2-1,-5,w+2,10);}ctx.fillStyle=halo?'#222':'#111';ctx.textAlign='center';ctx.textBaseline='middle';ctx.fillText(s,0,0);ctx.restore();});
 ctx.restore();ctx.save();ctx.fillStyle='#000';ctx.textBaseline='middle';
 ctx.font='bold 18px '+FONT;ctx.textAlign='center';ctx.fillText(o.name,A.left+o.nameX,A.top+20);
 if(o.legend)drawLegend(ctx,A);
 ctx.restore();
 ctx.save();ctx.fillStyle='#000';ctx.textBaseline='middle';ctx.textAlign='center';ctx.font=FS+'px '+FONT;ctx.fillText('Time = 6 h',A.left+214,A.top-19);
 ctx.textAlign='left';ctx.font='16.5px '+FONT;ctx.fillText(o.tag,A.left,A.top-15);ctx.restore();}};
function drawLegend(ctx,A){const lx=A.left+203.5,ly=A.top+189,w=216,h=77;ctx.fillStyle='#fff';ctx.fillRect(lx,ly,w,h);ctx.strokeStyle='#000';ctx.lineWidth=1;ctx.strokeRect(lx,ly,w,h);
 const rows=[['CBL1: grad(\u0398) > 0.001  K m',3,[],'#000',11],['CBL2: RI(vog) > 0.25',3,[3,3],'#000',31],['CBL3: RI(seib) > 0.25',3,[1,1.5],'#000',48],['AL: max\u2502grad(tracer)\u2502',2.5,[],'#10b010',66]];
 ctx.font='13px '+FONT;ctx.textAlign='left';ctx.textBaseline='middle';
 rows.forEach(([s,lw,d,c,dy])=>{ctx.beginPath();ctx.setLineDash(d);ctx.lineWidth=lw;ctx.strokeStyle=c;ctx.moveTo(lx+6,ly+dy);ctx.lineTo(lx+37,ly+dy);ctx.stroke();ctx.setLineDash([]);ctx.fillStyle='#000';ctx.fillText(s,lx+41,ly+dy);});
 const tw=ctx.measureText(rows[0][0]).width;ctx.font='9px '+FONT;ctx.fillText('\u22121',lx+41+tw,ly+6);}

function buildMain(p){
 const list=[];
 const push=d=>list.push(Object.assign({showLine:true,pointRadius:0,pointHitRadius:0,tension:0,borderWidth:0,fill:false},d));
 p.stripes.forEach(([lev,xt,xb])=>push({data:pts([xt,4,xt,1.5,xb,0,3,0,3,4,xt,4]),fill:'shape',backgroundColor:levelColors[lev],borderColor:levelColors[lev]}));
 p.shapes1.forEach(([lev,f])=>push({data:pts(f),fill:'shape',backgroundColor:levelColors[lev],borderColor:levelColors[lev]}));
 p.bands.forEach(([lev,f])=>push({data:pts(f),fill:'end',backgroundColor:levelColors[lev],borderColor:levelColors[lev]}));
 p.shapes2.forEach(([lev,f])=>push({data:pts(f),fill:'shape',backgroundColor:levelColors[lev],borderColor:levelColors[lev]}));
 if(p.terrain)push({data:pts(p.terrain),fill:'start',backgroundColor:'#b2b2b2',borderColor:'#222',borderWidth:1});
 p.thin.forEach(f=>push({data:pts(f),borderColor:'#111',borderWidth:.9,tension:.35}));
 p.theta.forEach(r=>{const f=[];r.forEach((v,i)=>f.push(thetaX[i],v));push({data:pts(f),borderColor:'#111',borderWidth:1,tension:.3});});
 push({data:pts(p.cbl3),borderColor:'#000',borderWidth:3,borderDash:[1,2]});
 push({data:pts(p.cbl2),borderColor:'#000',borderWidth:3,borderDash:[3,4]});
 push({data:pts(p.cbl1),borderColor:'#000',borderWidth:3});
 push({data:pts(p.al),borderColor:'#10b010',borderWidth:3});
 list.forEach((d,i)=>d.order=list.length-i);
 return list;
}
function axisY(ticksArr,max,extra){return Object.assign({type:'linear',min:0,max,afterBuildTicks:s=>{s.ticks=ticksArr.map(v=>({value:v}));},afterFit:s=>{s.width=EL;},grid:{display:false,drawTicks:false},border:{display:false},ticks:{font:{size:FS},padding:4,labelOffset:1.5,autoSkip:false,callback:v=>String(v)}},extra||{});}

panels.forEach(p=>{
 // main axes
 const mc=mkCanvas(p.L-EL,p.T-40,EL+PW+2,40+PH+20);
 new Chart(mc,{type:'scatter',data:{datasets:buildMain(p)},options:{responsive:false,devicePixelRatio:1,animation:false,events:[],
  layout:{padding:{top:40,right:2,bottom:0,left:0}},
  plugins:{legend:{display:false},tooltip:{enabled:false},frame:{},overlay:{labels:p.labels,name:p.name,nameX:p.nameX,tag:p.tag,legend:!!p.legend}},
  scales:{x:{type:'linear',min:XMIN,max:XMAX,afterBuildTicks:s=>{s.ticks=xTicks.map(v=>({value:v}));},afterFit:s=>{s.height=20;},grid:{display:false,drawTicks:false},border:{display:false},ticks:{display:false}},
   y:axisY(altitudeTicks,YMAX,{title:{display:true,text:'Altitude (km)',font:{size:FS},padding:{top:1,bottom:0}}})}},plugins:[frame,overlay]});
 // mass axes
 const mT=p.T+295;
 const massC=mkCanvas(p.L-EL,mT-21,EL+PW+14,21+MH+44);
 const md=[[p.m[2],[1,2.4],1.3],[p.m[1],[5,3],1.3],[p.m[0],[],1.7]].map(([f,dash,w],i)=>({data:pts(f),showLine:true,pointRadius:0,borderColor:'#000',borderWidth:w,borderDash:dash,tension:.25,fill:false,order:3-i}));
 new Chart(massC,{type:'scatter',data:{datasets:md},options:{responsive:false,devicePixelRatio:1,animation:false,events:[],
  layout:{padding:{top:21,right:14,bottom:0,left:0}},
  plugins:{legend:{display:false},tooltip:{enabled:false},frame:{}},
  scales:{x:{type:'linear',min:XMIN,max:XMAX,afterBuildTicks:s=>{s.ticks=xTicks.map(v=>({value:v}));},afterFit:s=>{s.height=44;},grid:{color:'#000',lineWidth:1,drawTicks:false},border:{display:false,dash:[1,2]},
    ticks:{font:{size:FS},padding:4,autoSkip:false,maxRotation:0,callback:v=>fmt(v)},title:{display:true,text:'X\u2212Direction (km)',font:{size:FS},padding:{top:0,bottom:0}}},
   y:axisY(massTicks,8,{grid:{color:'#000',lineWidth:1,drawTicks:false},border:{display:false,dash:[1,2]}})}},
  plugins:[frame,{id:'massLabel',afterDraw(ch){const c=ch.ctx,A=ch.chartArea;c.save();c.translate(A.left-27,A.top+37);c.rotate(-Math.PI/2);c.fillStyle='#000';c.textBaseline='middle';c.textAlign='left';c.font=FS+'px '+FONT;const a='Mass (% km',w=c.measureText(a).width,st=-60;c.fillText(a,st,0);c.font='12px '+FONT;c.fillText('\u22121',st+w,-6);const w2=c.measureText('\u22121').width;c.font=FS+'px '+FONT;c.fillText(')',st+w+w2,0);c.restore();}}]});
 // colour bar
 const bL=p.L+428,bT=p.T+34;
 const bc=mkCanvas(bL,bT-20,60,202+40);
 const vals=levelColors.map(()=>1/levelColors.length);
 new Chart(bc,{type:'bar',data:{labels:[''],datasets:levelColors.map((c,i)=>({data:[vals[i]],backgroundColor:c,stack:'s',barPercentage:1,categoryPercentage:1}))},
  options:{responsive:false,devicePixelRatio:1,animation:false,events:[],layout:{padding:{top:20,bottom:20,left:0,right:0}},
  plugins:{legend:{display:false},tooltip:{enabled:false},frame:{barTicks:true,w:1.2}},
  scales:{x:{display:false,stacked:true},y:{position:'right',stacked:true,min:0,max:1,afterBuildTicks:s=>{s.ticks=barTicks.map(v=>({value:v}));},afterFit:s=>{s.width=53;},grid:{display:false,drawTicks:false},border:{display:false},
   ticks:{font:{size:FS},padding:4,labelOffset:2,autoSkip:false,callback:v=>String(v)},title:{display:true,text:'Normalized Mixing Ratio',font:{size:FS},padding:{top:0,bottom:2}}}}},plugins:[frame]});
});
</script>
</body></html>
